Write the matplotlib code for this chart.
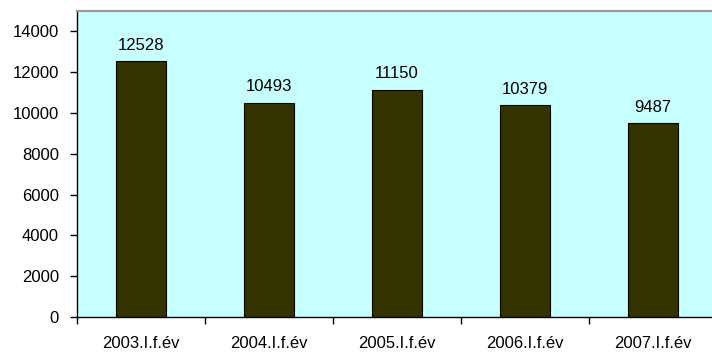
import matplotlib.pyplot as plt
import numpy as np

categories = ['2003.I.f.év', '2004.I.f.év', '2005.I.f.év', '2006.I.f.év', '2007.I.f.év']
values = [12528, 10493, 11150, 10379, 9487]
y_ticks = [0, 2000, 4000, 6000, 8000, 10000, 12000, 14000]

plt.rcParams['font.family'] = ['Liberation Sans', 'DejaVu Sans']

fig = plt.figure(figsize=(7.12, 3.53), dpi=100)
ax = fig.add_axes([77 / 712, 36 / 353, 640 / 712, 306 / 353])
ax.set_facecolor('#C8FFFF')

x = np.arange(len(categories))
ax.bar(x, values, width=0.39, color='#333300', edgecolor='black', linewidth=0.8)
for xi, v in zip(x, values):
    ax.text(xi, v + 420, str(v), ha='center', va='bottom', fontsize=12)

ax.set_xlim(-0.5, len(categories) - 0.5)
ax.set_ylim(0, 15000)
ax.set_yticks(y_ticks)
ax.tick_params(axis='y', labelsize=12, length=5, width=1, pad=8)
ax.set_xticks(x)
ax.set_xticklabels(categories, fontsize=12)
ax.tick_params(axis='x', length=0, pad=14)
ax.set_xticks(np.arange(len(categories) + 1) - 0.5, minor=True)
ax.tick_params(axis='x', which='minor', length=5, width=1)

ax.spines['top'].set_color('#999999')
ax.spines['top'].set_linewidth(1.5)
ax.spines['right'].set_visible(False)
ax.spines['left'].set_linewidth(1)
ax.spines['bottom'].set_linewidth(1)

fig.savefig('out.png', dpi=100)
